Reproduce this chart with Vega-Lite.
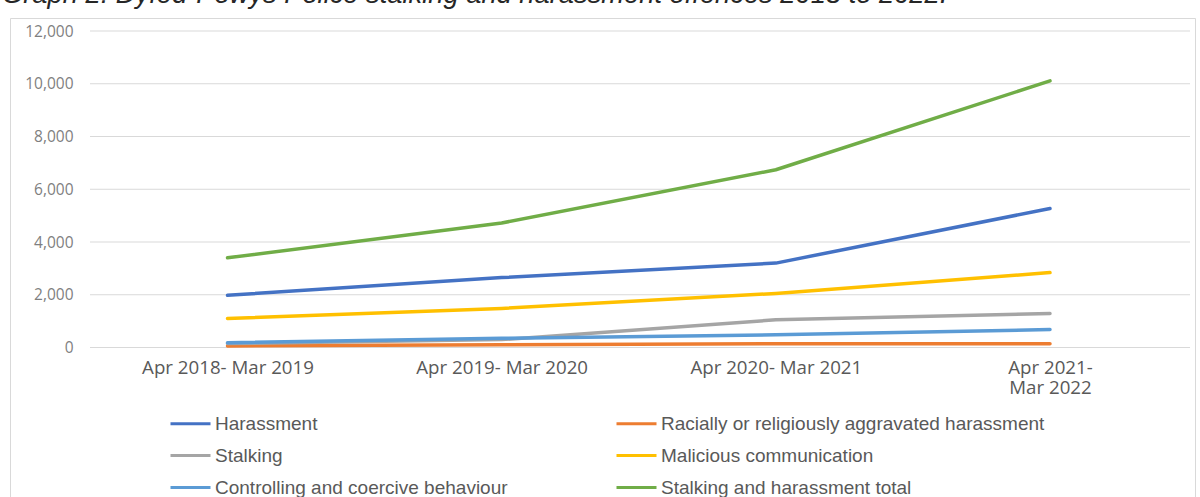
{
  "$schema": "https://vega.github.io/schema/vega-lite/v6.json",
  "width": 1185,
  "height": 479,
  "autosize": {"type": "none"},
  "padding": {"left": 10, "top": 18, "right": 5, "bottom": 0},
  "background": "white",
  "config": {"view": {"stroke": "#d9d9d9", "strokeWidth": 1, "fill": "white"}},
  "title": {
    "text": "Graph 2: Dyfed-Powys Police stalking and harassment offences 2018 to 2022.",
    "anchor": "start",
    "frame": "group",
    "orient": "top",
    "offset": 5,
    "baseline": "bottom",
    "dx": -8,
    "dy": 23,
    "font": "Liberation Sans",
    "fontSize": 27.3,
    "fontStyle": "italic",
    "fontWeight": "normal",
    "color": "#262626"
  },
  "layer": [
    {
      "data": {"values": [{"tick": 0}, {"tick": 2000}, {"tick": 4000}, {"tick": 6000}, {"tick": 8000}, {"tick": 10000}, {"tick": 12000}]},
      "mark": {"type": "rule", "color": "#d9d9d9", "strokeWidth": 1},
      "encoding": {
        "y": {
          "field": "tick", "type": "quantitative",
          "scale": {"domain": [0, 12000], "range": [329.5, 13], "nice": false, "zero": true},
          "axis": {"orient": "left", "offset": -63, "grid": false, "domain": false, "ticks": false, "labelPadding": 0, "values": [0, 2000, 4000, 6000, 8000, 10000, 12000], "labelFont": "Open Sans", "labelFontSize": 15.5, "labelColor": "#7f7f7f", "title": null, "format": ",d"}
        },
        "x": {"datum": 0, "type": "quantitative", "scale": {"domain": [0, 1], "range": [80, 1180]}, "axis": null},
        "x2": {"datum": 1}
      }
    },
    {
      "data": {"values": [
        {"series": "Harassment", "period": "Apr 2018- Mar 2019", "value": 1980},
        {"series": "Harassment", "period": "Apr 2019- Mar 2020", "value": 2650},
        {"series": "Harassment", "period": "Apr 2020- Mar 2021", "value": 3200},
        {"series": "Harassment", "period": "Apr 2021- Mar 2022", "value": 5270},
        {"series": "Racially or religiously aggravated harassment", "period": "Apr 2018- Mar 2019", "value": 60},
        {"series": "Racially or religiously aggravated harassment", "period": "Apr 2019- Mar 2020", "value": 100},
        {"series": "Racially or religiously aggravated harassment", "period": "Apr 2020- Mar 2021", "value": 140},
        {"series": "Racially or religiously aggravated harassment", "period": "Apr 2021- Mar 2022", "value": 140},
        {"series": "Stalking", "period": "Apr 2018- Mar 2019", "value": 150},
        {"series": "Stalking", "period": "Apr 2019- Mar 2020", "value": 300},
        {"series": "Stalking", "period": "Apr 2020- Mar 2021", "value": 1050},
        {"series": "Stalking", "period": "Apr 2021- Mar 2022", "value": 1290},
        {"series": "Malicious communication", "period": "Apr 2018- Mar 2019", "value": 1100},
        {"series": "Malicious communication", "period": "Apr 2019- Mar 2020", "value": 1480},
        {"series": "Malicious communication", "period": "Apr 2020- Mar 2021", "value": 2050},
        {"series": "Malicious communication", "period": "Apr 2021- Mar 2022", "value": 2840},
        {"series": "Controlling and coercive behaviour", "period": "Apr 2018- Mar 2019", "value": 180},
        {"series": "Controlling and coercive behaviour", "period": "Apr 2019- Mar 2020", "value": 350},
        {"series": "Controlling and coercive behaviour", "period": "Apr 2020- Mar 2021", "value": 480},
        {"series": "Controlling and coercive behaviour", "period": "Apr 2021- Mar 2022", "value": 680},
        {"series": "Stalking and harassment total", "period": "Apr 2018- Mar 2019", "value": 3400},
        {"series": "Stalking and harassment total", "period": "Apr 2019- Mar 2020", "value": 4720},
        {"series": "Stalking and harassment total", "period": "Apr 2020- Mar 2021", "value": 6740},
        {"series": "Stalking and harassment total", "period": "Apr 2021- Mar 2022", "value": 10110}
      ]},
      "mark": {"type": "line", "strokeWidth": 3.5, "strokeCap": "round", "strokeJoin": "round"},
      "encoding": {
        "x": {
          "field": "period", "type": "ordinal", "sort": null,
          "scale": {"type": "point", "range": [217.5, 1040], "padding": 0},
          "axis": {"orient": "bottom", "offset": -149.5, "domain": false, "ticks": false, "grid": false, "labelPadding": 11, "labelAngle": 0, "labelFont": "Open Sans", "labelFontSize": 18.7, "labelColor": "#595959", "title": null, "labelLineHeight": 20, "labelLimit": 400, "labelOverlap": false, "labelExpr": "datum.label == 'Apr 2021- Mar 2022' ? ['Apr 2021-', 'Mar 2022'] : datum.label"}
        },
        "y": {
          "field": "value", "type": "quantitative",
          "axis": {"orient": "left", "offset": -63, "grid": false, "domain": false, "ticks": false, "labelPadding": 0, "values": [0, 2000, 4000, 6000, 8000, 10000, 12000], "labelFont": "Open Sans", "labelFontSize": 15.5, "labelColor": "#7f7f7f", "title": null, "format": ",d"}
        },
        "color": {
          "field": "series", "type": "nominal",
          "scale": {
            "domain": ["Harassment", "Stalking", "Controlling and coercive behaviour", "Racially or religiously aggravated harassment", "Malicious communication", "Stalking and harassment total"],
            "range": ["#4472C4", "#A5A5A5", "#5B9BD5", "#ED7D31", "#FFC000", "#70AD47"]
          },
          "legend": {"orient": "none", "legendX": 159, "legendY": 384, "columns": 2, "gridAlign": "all", "title": null, "symbolType": "stroke", "symbolSize": 1600, "symbolStrokeWidth": 3, "labelFont": "Liberation Sans", "labelFontSize": 19, "labelColor": "#595959", "labelOffset": 3, "rowPadding": -2, "columnPadding": 11, "labelLimit": 500}
        }
      }
    }
  ],
  "resolve": {"scale": {"x": "independent"}}
}
